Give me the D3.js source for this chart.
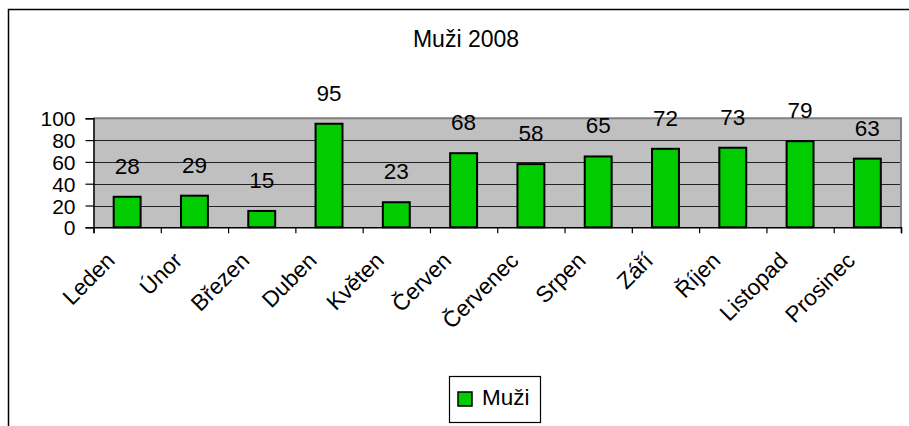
<!DOCTYPE html>
<html>
<head>
<meta charset="utf-8">
<script src="https://cdn.jsdelivr.net/npm/d3@7/dist/d3.min.js"></script>
<style>
  html, body { margin: 0; padding: 0; background: #fff; }
  svg { display: block; font-family: "Liberation Sans", Arial, sans-serif; }
</style>
</head>
<body>
<svg id="chart" width="909" height="426"></svg>
<script>
const chartTitle = "Muži 2008";
const seriesName = "Muži";
const categories = ["Leden", "Únor", "Březen", "Duben", "Květen", "Červen",
  "Červenec", "Srpen", "Září", "Říjen", "Listopad", "Prosinec"];
const values = [28, 29, 15, 95, 23, 68, 58, 65, 72, 73, 79, 63];
const yTicks = [0, 20, 40, 60, 80, 100];

const svg = d3.select("#chart");
const plot = { left: 93.5, right: 901, top: 118.3, bottom: 227.3 };
const green = "#00CC00";

// outer chart frame
svg.append("path")
  .attr("d", `M8.5,${440} L8.5,9.5 L${915},9.5`)
  .attr("fill", "none").attr("stroke", "#000").attr("stroke-width", 1.5);

// title
svg.append("text")
  .attr("x", 466).attr("y", 47)
  .attr("text-anchor", "middle")
  .attr("font-size", 23)
  .text(chartTitle);

const y = d3.scaleLinear().domain([0, 100]).range([plot.bottom, plot.top]);
const xIdx = d3.scaleLinear().domain([0, categories.length]).range([plot.left, plot.right]);
const xBand = d3.scaleBand().domain(categories).range([plot.left, plot.right])
  .paddingInner(0.6).paddingOuter(0.3);

// plot area background
svg.append("rect")
  .attr("x", plot.left).attr("y", plot.top)
  .attr("width", plot.right - plot.left).attr("height", plot.bottom - plot.top)
  .attr("fill", "#C0C0C0");

// gridlines
svg.append("g").selectAll("line")
  .data(yTicks.filter(t => t > 0 && t < 100))
  .join("line")
  .attr("x1", plot.left).attr("x2", plot.right)
  .attr("y1", d => Math.round(y(d)) + 0.5).attr("y2", d => Math.round(y(d)) + 0.5)
  .attr("stroke", "#222").attr("stroke-width", 1);

// plot area border top/right (gray)
svg.append("path")
  .attr("d", `M${plot.left},${plot.top} L${plot.right},${plot.top} L${plot.right},${plot.bottom}`)
  .attr("fill", "none").attr("stroke", "#808080").attr("stroke-width", 2);

// bars
svg.append("g").selectAll("rect")
  .data(values)
  .join("rect")
  .attr("x", (d, i) => xBand(categories[i]))
  .attr("width", xBand.bandwidth())
  .attr("y", d => y(d))
  .attr("height", d => y(0) - y(d))
  .attr("fill", green)
  .attr("stroke", "#000").attr("stroke-width", 2);

// value labels
svg.append("g").selectAll("text")
  .data(values)
  .join("text")
  .attr("x", (d, i) => xBand(categories[i]) + xBand.bandwidth() / 2)
  .attr("y", d => y(d) - 23)
  .attr("text-anchor", "middle")
  .attr("font-size", 22.5)
  .text(d => d);

// y axis
const yAxis = svg.append("g")
  .attr("transform", `translate(${plot.left},0)`)
  .call(d3.axisLeft(y).tickValues(yTicks).tickSize(8).tickPadding(10).tickFormat(d3.format("d")));
yAxis.select(".domain").attr("stroke", "#000").attr("stroke-width", 1.5);
yAxis.selectAll(".tick line").attr("stroke", "#000").attr("stroke-width", 1.2);
yAxis.selectAll(".tick text")
  .attr("font-size", 21).attr("font-family", "Liberation Sans, Arial, sans-serif")
  .attr("fill", "#000").attr("dy", "0.36em");

// x axis (ticks at category boundaries)
const xAxis = svg.append("g")
  .attr("transform", `translate(0,${plot.bottom})`)
  .call(d3.axisBottom(xIdx).tickValues(d3.range(categories.length + 1)).tickSize(6).tickFormat(""));
xAxis.select(".domain").attr("stroke", "#000").attr("stroke-width", 1.5);
xAxis.selectAll(".tick line").attr("stroke", "#000").attr("stroke-width", 1.2);

// category labels rotated
svg.append("g").selectAll("text")
  .data(categories)
  .join("text")
  .attr("transform", d => `translate(${xBand(d) + xBand.bandwidth() / 2 - 11},262) rotate(-45)`)
  .attr("text-anchor", "end")
  .attr("font-size", 22.5)
  .text(d => d);

// legend
const lg = svg.append("g");
lg.append("rect")
  .attr("x", 449.5).attr("y", 376.5).attr("width", 91).attr("height", 46)
  .attr("fill", "#fff").attr("stroke", "#000").attr("stroke-width", 1.2);
lg.append("rect")
  .attr("x", 458).attr("y", 392).attr("width", 14).attr("height", 14)
  .attr("fill", green).attr("stroke", "#000").attr("stroke-width", 1.5);
lg.append("text")
  .attr("x", 482).attr("y", 405)
  .attr("font-size", 22.5)
  .text(seriesName);
</script>
</body>
</html>
